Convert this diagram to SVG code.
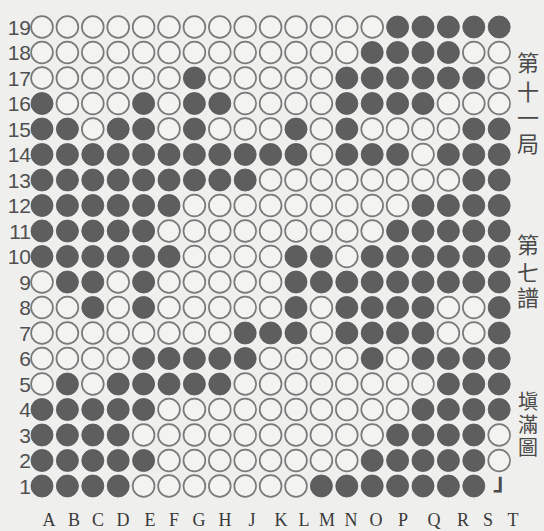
<svg xmlns="http://www.w3.org/2000/svg" xmlns:xlink="http://www.w3.org/1999/xlink" width="544" height="531" viewBox="0 0 544 531">
<style>
.lbl{font-family:"Liberation Sans","DejaVu Sans",sans-serif;font-size:21px;fill:#505050;text-anchor:end}
.col{font-family:"Liberation Serif","DejaVu Serif",serif;font-size:18px;fill:#3a3a3a;text-anchor:middle}
.cjk{font-family:"Liberation Serif","Noto Sans CJK TC","Noto Sans CJK JP",serif;font-size:22px;fill:#4a4a4a;text-anchor:middle}
.cjks{font-size:20px}
</style>
<defs>
<circle id="w" r="10.9" fill="#f3f3f1" stroke="#7a7a7a" stroke-width="1.7"/>
<circle id="b" r="11" fill="#5e5e5e" stroke="#555" stroke-width="0.8"/>
</defs>
<rect width="544" height="531" fill="#efefed"/>
<g id="stones">
<g id="row19" transform="translate(0,27)"><use href="#w" x="42"/><use href="#w" x="67.4"/><use href="#w" x="92.8"/><use href="#w" x="118.2"/><use href="#w" x="143.6"/><use href="#w" x="169"/><use href="#w" x="194.4"/><use href="#w" x="219.8"/><use href="#w" x="245.2"/><use href="#w" x="270.6"/><use href="#w" x="296"/><use href="#w" x="321.4"/><use href="#w" x="346.8"/><use href="#w" x="372.2"/><use href="#b" x="397.6"/><use href="#b" x="423"/><use href="#b" x="448.4"/><use href="#b" x="473.8"/><use href="#b" x="499.2"/></g>
<g id="row18" transform="translate(0,52.5)"><use href="#w" x="42"/><use href="#w" x="67.4"/><use href="#w" x="92.8"/><use href="#w" x="118.2"/><use href="#w" x="143.6"/><use href="#w" x="169"/><use href="#w" x="194.4"/><use href="#w" x="219.8"/><use href="#w" x="245.2"/><use href="#w" x="270.6"/><use href="#w" x="296"/><use href="#w" x="321.4"/><use href="#w" x="346.8"/><use href="#b" x="372.2"/><use href="#b" x="397.6"/><use href="#b" x="423"/><use href="#b" x="448.4"/><use href="#w" x="473.8"/><use href="#w" x="499.2"/></g>
<g id="row17" transform="translate(0,78)"><use href="#w" x="42"/><use href="#w" x="67.4"/><use href="#w" x="92.8"/><use href="#w" x="118.2"/><use href="#w" x="143.6"/><use href="#w" x="169"/><use href="#b" x="194.4"/><use href="#w" x="219.8"/><use href="#w" x="245.2"/><use href="#w" x="270.6"/><use href="#w" x="296"/><use href="#w" x="321.4"/><use href="#b" x="346.8"/><use href="#b" x="372.2"/><use href="#b" x="397.6"/><use href="#b" x="423"/><use href="#b" x="448.4"/><use href="#b" x="473.8"/><use href="#w" x="499.2"/></g>
<g id="row16" transform="translate(0,103.5)"><use href="#b" x="42"/><use href="#w" x="67.4"/><use href="#w" x="92.8"/><use href="#w" x="118.2"/><use href="#b" x="143.6"/><use href="#w" x="169"/><use href="#b" x="194.4"/><use href="#b" x="219.8"/><use href="#w" x="245.2"/><use href="#w" x="270.6"/><use href="#w" x="296"/><use href="#w" x="321.4"/><use href="#b" x="346.8"/><use href="#b" x="372.2"/><use href="#b" x="397.6"/><use href="#b" x="423"/><use href="#w" x="448.4"/><use href="#w" x="473.8"/><use href="#w" x="499.2"/></g>
<g id="row15" transform="translate(0,129)"><use href="#b" x="42"/><use href="#b" x="67.4"/><use href="#w" x="92.8"/><use href="#b" x="118.2"/><use href="#b" x="143.6"/><use href="#w" x="169"/><use href="#b" x="194.4"/><use href="#w" x="219.8"/><use href="#w" x="245.2"/><use href="#w" x="270.6"/><use href="#b" x="296"/><use href="#w" x="321.4"/><use href="#b" x="346.8"/><use href="#w" x="372.2"/><use href="#w" x="397.6"/><use href="#w" x="423"/><use href="#w" x="448.4"/><use href="#b" x="473.8"/><use href="#b" x="499.2"/></g>
<g id="row14" transform="translate(0,154.5)"><use href="#b" x="42"/><use href="#b" x="67.4"/><use href="#b" x="92.8"/><use href="#b" x="118.2"/><use href="#b" x="143.6"/><use href="#b" x="169"/><use href="#b" x="194.4"/><use href="#b" x="219.8"/><use href="#b" x="245.2"/><use href="#b" x="270.6"/><use href="#b" x="296"/><use href="#w" x="321.4"/><use href="#b" x="346.8"/><use href="#b" x="372.2"/><use href="#b" x="397.6"/><use href="#w" x="423"/><use href="#b" x="448.4"/><use href="#b" x="473.8"/><use href="#b" x="499.2"/></g>
<g id="row13" transform="translate(0,180)"><use href="#b" x="42"/><use href="#b" x="67.4"/><use href="#b" x="92.8"/><use href="#b" x="118.2"/><use href="#b" x="143.6"/><use href="#b" x="169"/><use href="#b" x="194.4"/><use href="#b" x="219.8"/><use href="#b" x="245.2"/><use href="#w" x="270.6"/><use href="#w" x="296"/><use href="#w" x="321.4"/><use href="#w" x="346.8"/><use href="#w" x="372.2"/><use href="#w" x="397.6"/><use href="#w" x="423"/><use href="#w" x="448.4"/><use href="#b" x="473.8"/><use href="#b" x="499.2"/></g>
<g id="row12" transform="translate(0,205.5)"><use href="#b" x="42"/><use href="#b" x="67.4"/><use href="#b" x="92.8"/><use href="#b" x="118.2"/><use href="#b" x="143.6"/><use href="#b" x="169"/><use href="#w" x="194.4"/><use href="#w" x="219.8"/><use href="#w" x="245.2"/><use href="#w" x="270.6"/><use href="#w" x="296"/><use href="#w" x="321.4"/><use href="#w" x="346.8"/><use href="#w" x="372.2"/><use href="#w" x="397.6"/><use href="#b" x="423"/><use href="#b" x="448.4"/><use href="#b" x="473.8"/><use href="#b" x="499.2"/></g>
<g id="row11" transform="translate(0,231)"><use href="#b" x="42"/><use href="#b" x="67.4"/><use href="#b" x="92.8"/><use href="#b" x="118.2"/><use href="#b" x="143.6"/><use href="#w" x="169"/><use href="#w" x="194.4"/><use href="#w" x="219.8"/><use href="#w" x="245.2"/><use href="#w" x="270.6"/><use href="#w" x="296"/><use href="#w" x="321.4"/><use href="#w" x="346.8"/><use href="#w" x="372.2"/><use href="#b" x="397.6"/><use href="#b" x="423"/><use href="#b" x="448.4"/><use href="#b" x="473.8"/><use href="#b" x="499.2"/></g>
<g id="row10" transform="translate(0,256.5)"><use href="#b" x="42"/><use href="#b" x="67.4"/><use href="#b" x="92.8"/><use href="#b" x="118.2"/><use href="#b" x="143.6"/><use href="#b" x="169"/><use href="#w" x="194.4"/><use href="#w" x="219.8"/><use href="#w" x="245.2"/><use href="#w" x="270.6"/><use href="#b" x="296"/><use href="#b" x="321.4"/><use href="#w" x="346.8"/><use href="#b" x="372.2"/><use href="#b" x="397.6"/><use href="#b" x="423"/><use href="#b" x="448.4"/><use href="#b" x="473.8"/><use href="#b" x="499.2"/></g>
<g id="row9" transform="translate(0,282)"><use href="#w" x="42"/><use href="#b" x="67.4"/><use href="#b" x="92.8"/><use href="#w" x="118.2"/><use href="#b" x="143.6"/><use href="#w" x="169"/><use href="#w" x="194.4"/><use href="#w" x="219.8"/><use href="#w" x="245.2"/><use href="#w" x="270.6"/><use href="#b" x="296"/><use href="#b" x="321.4"/><use href="#b" x="346.8"/><use href="#b" x="372.2"/><use href="#b" x="397.6"/><use href="#b" x="423"/><use href="#b" x="448.4"/><use href="#b" x="473.8"/><use href="#b" x="499.2"/></g>
<g id="row8" transform="translate(0,307.5)"><use href="#w" x="42"/><use href="#w" x="67.4"/><use href="#b" x="92.8"/><use href="#w" x="118.2"/><use href="#b" x="143.6"/><use href="#w" x="169"/><use href="#w" x="194.4"/><use href="#w" x="219.8"/><use href="#w" x="245.2"/><use href="#w" x="270.6"/><use href="#b" x="296"/><use href="#w" x="321.4"/><use href="#b" x="346.8"/><use href="#b" x="372.2"/><use href="#b" x="397.6"/><use href="#b" x="423"/><use href="#w" x="448.4"/><use href="#w" x="473.8"/><use href="#b" x="499.2"/></g>
<g id="row7" transform="translate(0,333)"><use href="#w" x="42"/><use href="#w" x="67.4"/><use href="#w" x="92.8"/><use href="#w" x="118.2"/><use href="#w" x="143.6"/><use href="#w" x="169"/><use href="#w" x="194.4"/><use href="#w" x="219.8"/><use href="#b" x="245.2"/><use href="#b" x="270.6"/><use href="#b" x="296"/><use href="#w" x="321.4"/><use href="#b" x="346.8"/><use href="#b" x="372.2"/><use href="#b" x="397.6"/><use href="#b" x="423"/><use href="#w" x="448.4"/><use href="#w" x="473.8"/><use href="#b" x="499.2"/></g>
<g id="row6" transform="translate(0,358.5)"><use href="#w" x="42"/><use href="#w" x="67.4"/><use href="#w" x="92.8"/><use href="#w" x="118.2"/><use href="#b" x="143.6"/><use href="#b" x="169"/><use href="#b" x="194.4"/><use href="#b" x="219.8"/><use href="#b" x="245.2"/><use href="#w" x="270.6"/><use href="#w" x="296"/><use href="#w" x="321.4"/><use href="#w" x="346.8"/><use href="#b" x="372.2"/><use href="#w" x="397.6"/><use href="#b" x="423"/><use href="#b" x="448.4"/><use href="#b" x="473.8"/><use href="#b" x="499.2"/></g>
<g id="row5" transform="translate(0,384)"><use href="#w" x="42"/><use href="#b" x="67.4"/><use href="#w" x="92.8"/><use href="#b" x="118.2"/><use href="#b" x="143.6"/><use href="#b" x="169"/><use href="#b" x="194.4"/><use href="#b" x="219.8"/><use href="#w" x="245.2"/><use href="#w" x="270.6"/><use href="#w" x="296"/><use href="#w" x="321.4"/><use href="#w" x="346.8"/><use href="#w" x="372.2"/><use href="#w" x="397.6"/><use href="#w" x="423"/><use href="#b" x="448.4"/><use href="#b" x="473.8"/><use href="#b" x="499.2"/></g>
<g id="row4" transform="translate(0,409.5)"><use href="#b" x="42"/><use href="#b" x="67.4"/><use href="#b" x="92.8"/><use href="#b" x="118.2"/><use href="#b" x="143.6"/><use href="#w" x="169"/><use href="#w" x="194.4"/><use href="#w" x="219.8"/><use href="#w" x="245.2"/><use href="#w" x="270.6"/><use href="#w" x="296"/><use href="#w" x="321.4"/><use href="#w" x="346.8"/><use href="#w" x="372.2"/><use href="#w" x="397.6"/><use href="#b" x="423"/><use href="#b" x="448.4"/><use href="#b" x="473.8"/><use href="#b" x="499.2"/></g>
<g id="row3" transform="translate(0,435)"><use href="#b" x="42"/><use href="#b" x="67.4"/><use href="#b" x="92.8"/><use href="#b" x="118.2"/><use href="#w" x="143.6"/><use href="#w" x="169"/><use href="#w" x="194.4"/><use href="#w" x="219.8"/><use href="#w" x="245.2"/><use href="#w" x="270.6"/><use href="#w" x="296"/><use href="#w" x="321.4"/><use href="#w" x="346.8"/><use href="#w" x="372.2"/><use href="#b" x="397.6"/><use href="#b" x="423"/><use href="#b" x="448.4"/><use href="#b" x="473.8"/><use href="#w" x="499.2"/></g>
<g id="row2" transform="translate(0,460.5)"><use href="#b" x="42"/><use href="#b" x="67.4"/><use href="#b" x="92.8"/><use href="#b" x="118.2"/><use href="#b" x="143.6"/><use href="#w" x="169"/><use href="#w" x="194.4"/><use href="#w" x="219.8"/><use href="#w" x="245.2"/><use href="#w" x="270.6"/><use href="#w" x="296"/><use href="#w" x="321.4"/><use href="#w" x="346.8"/><use href="#b" x="372.2"/><use href="#b" x="397.6"/><use href="#b" x="423"/><use href="#b" x="448.4"/><use href="#b" x="473.8"/><use href="#w" x="499.2"/></g>
<g id="row1" transform="translate(0,486)"><use href="#b" x="42"/><use href="#b" x="67.4"/><use href="#b" x="92.8"/><use href="#b" x="118.2"/><use href="#w" x="143.6"/><use href="#w" x="169"/><use href="#w" x="194.4"/><use href="#w" x="219.8"/><use href="#w" x="245.2"/><use href="#w" x="270.6"/><use href="#w" x="296"/><use href="#b" x="321.4"/><use href="#b" x="346.8"/><use href="#b" x="372.2"/><use href="#b" x="397.6"/><use href="#b" x="423"/><use href="#b" x="448.4"/><use href="#b" x="473.8"/></g>
</g>
<g id="row-labels">
<text class="lbl" x="31" y="34.5">19</text>
<text class="lbl" x="31" y="60">18</text>
<text class="lbl" x="31" y="85.5">17</text>
<text class="lbl" x="31" y="111">16</text>
<text class="lbl" x="31" y="136.5">15</text>
<text class="lbl" x="31" y="162">14</text>
<text class="lbl" x="31" y="187.5">13</text>
<text class="lbl" x="31" y="213">12</text>
<text class="lbl" x="31" y="238.5">11</text>
<text class="lbl" x="31" y="264">10</text>
<text class="lbl" x="31" y="289.5">9</text>
<text class="lbl" x="31" y="315">8</text>
<text class="lbl" x="31" y="340.5">7</text>
<text class="lbl" x="31" y="366">6</text>
<text class="lbl" x="31" y="391.5">5</text>
<text class="lbl" x="31" y="417">4</text>
<text class="lbl" x="31" y="442.5">3</text>
<text class="lbl" x="31" y="468">2</text>
<text class="lbl" x="31" y="493.5">1</text>
</g>
<g id="col-labels">
<text class="col" x="49" y="526">A</text>
<text class="col" x="74" y="526">B</text>
<text class="col" x="98" y="526">C</text>
<text class="col" x="123" y="526">D</text>
<text class="col" x="150" y="526">E</text>
<text class="col" x="174" y="526">F</text>
<text class="col" x="199" y="526">G</text>
<text class="col" x="225" y="526">H</text>
<text class="col" x="252" y="526">J</text>
<text class="col" x="281" y="526">K</text>
<text class="col" x="304" y="526">L</text>
<text class="col" x="327" y="526">M</text>
<text class="col" x="351" y="526">N</text>
<text class="col" x="376" y="526">O</text>
<text class="col" x="403" y="526">P</text>
<text class="col" x="434" y="526">Q</text>
<text class="col" x="463" y="526">R</text>
<text class="col" x="488" y="526">S</text>
<text class="col" x="513" y="526">T</text>
</g>
<g id="title">
<text class="cjk" x="528" y="71">第</text>
<text class="cjk" x="528" y="100">十</text>
<text class="cjk" x="528" y="126">一</text>
<text class="cjk" x="528" y="152">局</text>
<text class="cjk" x="528" y="253">第</text>
<text class="cjk" x="528" y="281">七</text>
<text class="cjk" x="528" y="306">譜</text>
<text class="cjk cjks" x="528" y="409">塡</text>
<text class="cjk cjks" x="528" y="432">滿</text>
<text class="cjk cjks" x="528" y="455">圖</text>
<text class="cjk" x="505" y="490" style="font-size:24px;font-weight:bold">」</text>
</g>
</svg>
